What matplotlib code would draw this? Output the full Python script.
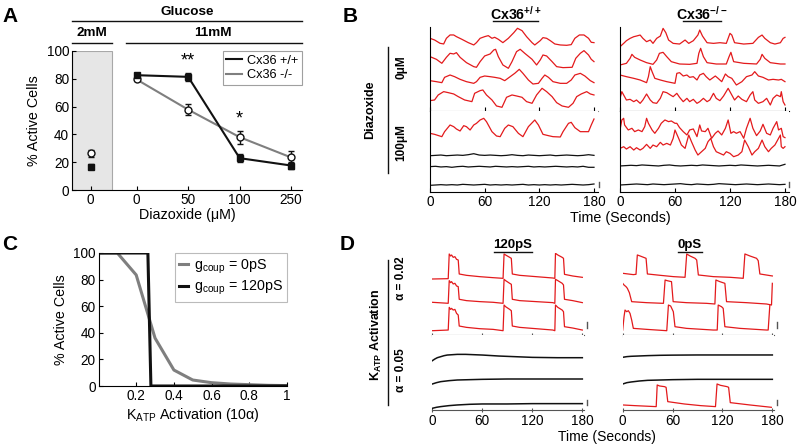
import numpy as np
import matplotlib
matplotlib.use('Agg')
import matplotlib.pyplot as plt

plt.rcParams['font.family'] = ['Liberation Sans', 'DejaVu Sans']
plt.rcParams['mathtext.fontset'] = 'custom'
plt.rcParams['mathtext.rm'] = 'Liberation Sans'
plt.rcParams['mathtext.it'] = 'Liberation Sans:italic'
plt.rcParams['mathtext.bf'] = 'Liberation Sans:bold'

# ---------------- Panel A data ----------------
diaz_labels = ['0', '50', '100', '250']
wt_11 = [82.6, 81.4, 22.9, 17.6]
wt_11_err = [1.2, 3.0, 3.0, 2.3]
ko_11 = [79.5, 57.8, 38.0, 23.4]
ko_11_err = [1.0, 4.2, 4.6, 4.8]
wt_2 = [16.9]
wt_2_err = [1.5]
ko_2 = [26.5]
ko_2_err = [2.4]

# ---------------- Panel B data (a.u.) ----------------
bw0_1_t = [0,5,11,15,18,22,26,29,35,42,48,51,55,60,64,68,71,75,80,86,92,96,101,106,112,115,121,124,128,132,137,143,150,155,159,164,169,174,177,180]
bw0_1_v = [21,16,6,4,21,31,31,26,18,8,1,8,21,26,29,21,24,18,8,21,38,51,44,26,8,1,14,23,21,14,4,1,0,2,21,31,31,21,9,8]
bw0_2_t = [0,7,13,18,22,26,29,33,40,48,51,55,60,66,70,72,75,80,86,90,95,99,104,112,117,121,124,128,134,139,146,156,160,165,169,174,177,180]
bw0_2_v = [35,27,15,33,45,43,47,33,17,5,3,20,37,43,55,57,35,10,0,20,50,57,45,27,10,25,40,37,20,5,2,3,30,45,53,40,27,20]
bw0_3_t = [0,7,13,16,22,27,33,40,48,51,55,60,66,71,77,82,88,93,98,102,108,113,119,123,126,130,135,143,150,155,159,165,170,176,180]
bw0_3_v = [10,7,4,20,27,22,14,7,2,7,20,24,22,20,17,10,22,32,44,32,12,0,2,17,27,20,7,2,2,12,27,32,24,10,4]
bw0_4_t = [0,5,9,15,20,26,31,38,46,49,55,58,62,68,73,79,84,90,95,101,106,112,117,123,128,134,139,145,152,157,161,166,172,176,180]
bw0_4_v = [20,22,37,47,44,40,32,22,17,42,50,52,37,22,4,0,30,37,34,30,17,12,37,57,47,32,14,4,0,12,32,40,47,40,37]

bw1_1_t = [0,5,13,16,22,26,29,33,37,40,44,48,51,55,59,62,68,73,77,82,86,91,97,102,108,115,119,124,130,135,143,146,152,155,159,165,174,177,180]
bw1_1_v = [11,8,1,16,36,31,24,18,34,31,21,36,41,51,56,46,16,3,1,26,36,31,11,1,31,51,36,8,4,1,0,16,41,44,28,16,16,36,54]
flat_t = [0,6,12,18,24,30,36,42,48,54,60,66,72,78,84,90,96,102,108,114,120,126,132,138,144,150,156,162,168,174,180]
bw1_k1_v = [3,4,5,3,4,5,4,6,9,5,4,5,4,3,4,6,4,3,5,4,3,4,5,3,4,5,4,3,4,6,4]
bw1_k2_v = [5,6,4,5,3,5,6,4,5,6,5,4,6,5,4,5,4,5,6,4,5,4,5,6,5,4,5,4,6,3,3]
bw1_k3_v = [2,3,4,3,4,3,5,4,3,4,5,3,4,3,4,3,4,5,3,4,3,4,3,4,3,4,5,4,3,4,6]

bk0_1_t = [0,4,7,11,15,18,22,25,29,33,36,40,44,47,50,53,58,65,71,75,80,85,87,90,95,102,109,116,120,122,125,135,145,151,155,158,164,169,175,178,180]
bk0_1_v = [0,10,18,25,30,32,35,25,15,20,10,25,32,55,42,20,10,8,20,10,18,35,50,32,12,10,12,10,40,35,12,8,10,28,35,25,12,8,12,25,28]
bk0_2_t = [0,7,11,13,16,22,29,36,40,43,47,51,56,65,76,84,86,88,91,95,105,116,119,121,124,135,149,153,155,158,164,175,180]
bk0_2_v = [0,5,20,32,23,15,7,2,15,35,38,25,10,3,2,5,35,50,25,7,3,3,25,38,10,5,3,17,32,20,7,3,3]
bk0_3_t = [0,7,15,22,29,31,33,35,38,44,51,60,62,65,69,73,76,80,84,87,91,94,98,104,107,111,115,118,122,127,133,138,144,147,151,156,162,167,173,176,180]
bk0_3_v = [30,25,20,15,7,25,55,40,20,15,10,5,35,37,27,30,23,25,15,30,35,25,15,27,20,10,33,25,20,0,10,25,30,40,27,23,15,17,15,17,10]
bk0_4_t = [0,2,4,7,11,15,18,22,25,29,33,36,40,44,47,51,55,58,62,65,69,73,76,80,84,87,91,95,98,102,105,109,113,118,122,125,129,133,138,142,145,147,151,156,160,164,167,171,175,176,178,180]
bk0_4_v = [23,43,33,18,20,13,18,8,18,36,18,10,8,23,43,40,33,28,38,26,13,23,13,20,8,13,23,13,18,38,23,16,30,53,33,18,30,20,13,33,43,18,8,13,23,3,23,33,28,43,13,3]

bk1_1_t = [0,2,4,5,9,13,16,20,24,27,29,31,35,38,42,45,49,53,56,60,62,65,69,73,76,80,84,87,89,93,96,100,104,107,111,115,118,121,124,127,131,135,138,142,145,149,153,156,160,164,167,171,173,176,178,180]
bk1_1_v = [25,55,60,40,25,30,20,25,20,35,60,45,25,15,30,45,55,50,52,45,45,32,20,10,25,28,5,40,22,20,30,0,15,22,10,30,55,15,20,15,20,0,30,60,30,8,22,42,15,10,30,50,25,30,5,2]
bk1_2_t = [0,4,7,11,15,18,22,25,29,33,36,40,44,47,51,55,58,60,64,67,71,73,75,78,82,85,89,93,96,99,102,105,109,113,116,120,124,129,133,136,140,144,147,151,155,158,162,165,169,172,175,176,178,180]
bk1_2_v = [25,30,23,30,20,27,20,25,37,25,35,30,43,35,40,35,55,80,55,35,25,45,65,45,20,5,15,25,45,55,30,15,10,5,15,10,0,5,15,50,30,5,15,25,50,30,15,25,35,50,65,30,25,30]
bk1_k1_v = [4,5,6,5,7,6,5,4,6,7,5,4,5,6,5,7,6,5,4,5,6,5,7,6,5,4,5,6,5,4,9]
bk1_k2_v = [3,4,5,6,5,4,6,5,4,5,6,7,5,4,6,5,4,5,7,6,5,4,5,6,5,4,5,6,5,4,5]

# ---------------- Panel C data ----------------
katp_x = [0, 0.1, 0.2, 0.3, 0.4, 0.5, 0.6, 0.7, 0.8, 0.9, 1.0]
active_0pS = [100, 100, 83.5, 36, 12, 4.5, 2.5, 1.5, 1.0, 0.5, 0.3]
katp_x120 = [0, 0.262, 0.278, 1.0]
active_120pS = [100, 100, 0, 0]

# ---------------- Panel D data (a.u.) ----------------
dl_t = [0,19.1,20.3,21.9,23.1,25.1,27.1,29.1,31.1,32.3,41,57,72.9,84.9,86.1,88,92.8,94.8,96,104.8,124.7,144.6,147,147.8,150.6,155.8,157.4,158.6,168.5,180]
dl1_v = [0,1,75,69,72,65,67,59,57,15,11,7,4,2,75,72,65,62,15,11,7,3,2,77,72,65,62,14,9,5]
dl2_v = [3,0,68,62,65,58,60,52,50,12,8,5,3,0,72,68,60,57,12,8,5,2,0,72,68,60,55,12,8,2]
dl3_v = [0,2,70,64,67,62,64,52,47,14,10,6,4,0,77,72,64,60,14,10,6,2,0,77,70,62,57,12,8,2]
dr1_t = [0,12.8,16,17.6,20.9,28.1,29.7,44.9,61,75,77,81,87,89,91,109,129,145,147,153,161,163,165,180]
dr1_v = [15,11,12,70,67,60,13,9,5,3,73,67,60,55,10,5,3,0,73,67,60,53,13,7]
dr2_t = [0,1.6,4,5.6,8,10.8,28.9,49,51,53.5,58.7,60.7,76.8,100.8,110.9,112.1,116.9,122.9,124.9,149,173,179,180]
dr2_v = [65,60,55,50,37,10,7,5,75,73,70,10,7,5,3,75,70,65,10,7,3,0,65]
dr3_t = [0,1.6,2.8,4.8,6.8,8.8,10.8,12.8,28.9,53,55,57.7,60.9,62.9,76.8,108.9,113.7,114.9,118.9,120.9,122.9,141,173,175,177]
dr3_v = [2,42,62,57,60,52,32,7,4,0,77,74,57,12,7,2,2,77,72,67,12,7,2,2,77]
db1_t = [0,3,6,10,14,18,24,30,40,60,80,100,120,150,180]
dlb1_v = [0,5,9,12,15,17,18,19,19,17,14,12,10,9,9]
db_t = [0,5,10,20,30,45,60,90,120,180]
dlb2_v = [0,4,7,10,12,13,14,15,15,15]
dlb3_v = [0,3,5,8,10,12,13,13,14,14]
drb1_v = [0,2,3,4,5,6,6.5,7,7,7]
drb2_v = [0,4,6,9,11,12,13,14,14,14]
drb3_t = [0,14.6,40.3,41.5,44.3,50.2,52.2,54.2,74,93.8,111.6,113.5,117.5,125.4,127.4,129.4,153,178.8]
drb3_v = [7,5,2,67,64,62,60,17,10,5,2,70,66,62,60,14,7,0]

# ---------------- figure ----------------
W, H = 799, 446
fig = plt.figure(figsize=(W / 100, H / 100), dpi=100)
RED = '#e31a1c'
BLK = '#111111'
GRY = '#7f7f7f'
AMP = 1 / 3.0
TICK = 9.8


def px_axes(x0, y0, x1, y1):
    return fig.add_axes([x0 / W, 1 - y1 / H, (x1 - x0) / W, (y1 - y0) / H])


def trace(ax, t, v, off, color, lw=0.9):
    ax.plot(t, off + np.asarray(v, dtype=float) * AMP, color=color, lw=lw,
            solid_joinstyle='round')


# ---- Panel A ----
axA = px_axes(72, 51, 302, 190)
xpos = np.arange(len(diaz_labels))
x2 = -0.893
axA.set_xlim(-1.256, 3.21)
axA.set_ylim(0, 100)
axA.add_patch(plt.Rectangle((-1.256, 0), 0.776, 100, facecolor='#e6e6e6',
                            edgecolor='#a8a8a8', lw=0.8, zorder=0))
axA.plot(xpos, ko_11, color=GRY, lw=1.5, zorder=2)
axA.plot(xpos, wt_11, color=BLK, lw=1.5, zorder=3)
axA.errorbar(xpos, ko_11, yerr=ko_11_err, fmt='o', mfc='white', mec=BLK,
             ms=5, ecolor=BLK, elinewidth=1, capsize=2, zorder=4)
axA.errorbar(xpos, wt_11, yerr=wt_11_err, fmt='s', mfc=BLK, mec=BLK,
             ms=5, ecolor=BLK, elinewidth=1, capsize=2, zorder=5)
axA.errorbar([x2], ko_2, yerr=ko_2_err, fmt='o', mfc='white', mec=BLK,
             ms=5, ecolor=BLK, elinewidth=1, capsize=2, zorder=4)
axA.errorbar([x2], wt_2, yerr=wt_2_err, fmt='s', mfc=BLK, mec=BLK,
             ms=5, ecolor=BLK, elinewidth=1, capsize=2, zorder=5)
axA.text(1, 87, '**', ha='center', va='bottom', fontsize=13)
axA.text(2, 45, '*', ha='center', va='bottom', fontsize=13)
axA.set_xticks([x2] + list(xpos))
axA.set_xticklabels(['0'] + diaz_labels)
axA.set_yticks(range(0, 101, 20))
axA.tick_params(labelsize=TICK, direction='in', length=3, pad=2)
for s in ['top', 'right']:
    axA.spines[s].set_visible(False)
axA.set_ylabel('% Active Cells', fontsize=10.3, labelpad=4)
axA.set_xlabel('Diazoxide (\u03bcM)', fontsize=10.3, labelpad=1)
hA = [plt.Line2D([], [], color=BLK, lw=1.5), plt.Line2D([], [], color=GRY, lw=1.5)]
legA = axA.legend(hA, ['Cx36 +/+', 'Cx36 -/-'], loc='upper right',
                  bbox_to_anchor=(1.0, 1.0), borderaxespad=0, fontsize=9.2,
                  frameon=True, fancybox=False, handlelength=1.2,
                  handletextpad=0.4, borderpad=0.3, labelspacing=0.2)
legA.get_frame().set_edgecolor('#888888')
legA.get_frame().set_linewidth(0.8)

# ---- Panel B ----
def b_axes(x0, x1, y0, y1):
    ax = px_axes(x0, y0, x1, y1)
    ax.set_xlim(0, 184.4)
    for s in ['top', 'right']:
        ax.spines[s].set_visible(False)
    ax.set_yticks([])
    ax.set_xticks([0, 60, 120, 180])
    ax.tick_params(labelsize=TICK, direction='in', length=3, pad=2)
    return ax


bl_top = b_axes(430, 598, 27, 111); bl_top.set_ylim(0, 84)
bl_bot = b_axes(430, 598, 111, 192); bl_bot.set_ylim(0, 81)
br_top = b_axes(620, 789, 27, 111); br_top.set_ylim(0, 84)
br_bot = b_axes(620, 789, 111, 192); br_bot.set_ylim(0, 81)
for ax in (bl_top, br_top):
    ax.set_xticklabels([])
bl_top.spines['bottom'].set_color('#8a8a8a')

trace(bl_top, bw0_1_t, bw0_1_v, 65.7, RED)
trace(bl_top, bw0_2_t, bw0_2_v, 42.7, RED)
trace(bl_top, bw0_3_t, bw0_3_v, 27.0, RED)
trace(bl_top, bw0_4_t, bw0_4_v, 3.7, RED)
trace(bl_bot, bw1_1_t, bw1_1_v, 55.0, RED)
trace(bl_bot, flat_t, bw1_k1_v, 35.3, BLK)
trace(bl_bot, flat_t, bw1_k2_v, 23.7, BLK)
trace(bl_bot, flat_t, bw1_k3_v, 6.0, BLK)

trace(br_top, bk0_1_t, bk0_1_v, 64.3, RED)
trace(br_top, bk0_2_t, bk0_2_v, 46.0, RED)
trace(br_top, bk0_3_t, bk0_3_v, 26.0, RED)
trace(br_top, bk0_4_t, bk0_4_v, 5.0, RED)
trace(br_bot, bk1_1_t, bk1_1_v, 53.7, RED)
trace(br_bot, bk1_2_t, bk1_2_v, 35.3, RED)
trace(br_bot, flat_t, bk1_k1_v, 24.7, BLK)
trace(br_bot, flat_t, bk1_k2_v, 6.0, BLK)

# ---- Panel C ----
axC = px_axes(98.5, 253, 287, 386)
axC.plot(katp_x, active_0pS, color=GRY, lw=2.2, label='g$_{\\mathrm{coup}}$ = 0pS')
axC.plot(katp_x120, active_120pS, color=BLK, lw=2.2, label='g$_{\\mathrm{coup}}$ = 120pS')
axC.set_xlim(0, 1)
axC.set_ylim(0, 100)
axC.set_xticks([0.2, 0.4, 0.6, 0.8, 1.0])
axC.set_xticklabels(['0.2', '0.4', '0.6', '0.8', '1'])
axC.set_yticks(range(0, 101, 20))
axC.tick_params(labelsize=TICK, direction='in', length=3, pad=2)
for s in ['top', 'right']:
    axC.spines[s].set_visible(False)
axC.set_ylabel('% Active Cells', fontsize=10.3, labelpad=4)
axC.set_xlabel('K$_{\\mathrm{ATP}}$ Activation (10\u03b1)', fontsize=10.3, labelpad=2)
legC = axC.legend(loc='upper right', bbox_to_anchor=(1.0, 1.0), borderaxespad=0,
                  fontsize=10.3, frameon=True, fancybox=False, handlelength=0.6,
                  handletextpad=0.4, borderpad=0.3, labelspacing=0.25)
legC.get_frame().set_edgecolor('#aaaaaa')
legC.get_frame().set_linewidth(0.8)

# ---- Panel D ----
def d_axes(x0, x1, y0, y1):
    ax = px_axes(x0, y0, x1, y1)
    ax.set_xlim(0, 182)
    for s in ['top', 'right', 'left']:
        ax.spines[s].set_visible(False)
    ax.spines['bottom'].set_color('#555555')
    ax.set_yticks([])
    ax.set_xticks([0, 60, 120, 180])
    ax.tick_params(labelsize=TICK, direction='inout', length=3, pad=1.5, color='#555555')
    return ax


dl_top = d_axes(432.3, 584, 253, 335); dl_top.set_ylim(0, 82)
dl_bot = d_axes(432.3, 584, 335, 410); dl_bot.set_ylim(0, 75)
dr_top = d_axes(622.7, 774, 253, 335); dr_top.set_ylim(0, 82)
dr_bot = d_axes(622.7, 774, 335, 410); dr_bot.set_ylim(0, 75)
for ax in (dl_top, dr_top):
    ax.set_xticklabels([])

trace(dl_top, dl_t, dl1_v, 56.0, RED)
trace(dl_top, dl_t, dl2_v, 31.7, RED)
trace(dl_top, dl_t, dl3_v, 4.3, RED)
trace(dl_bot, db1_t, dlb1_v, 49.3, BLK, 1.1)
trace(dl_bot, db_t, dlb2_v, 26.0, BLK, 1.1)
trace(dl_bot, db_t, dlb3_v, 1.7, BLK, 1.1)

trace(dr_top, dr1_t, dr1_v, 56.7, RED)
trace(dr_top, dr2_t, dr2_v, 30.0, RED)
trace(dr_top, dr3_t, dr3_v, 4.3, RED)
trace(dr_bot, db_t, drb1_v, 52.7, BLK, 1.1)
trace(dr_bot, db_t, drb2_v, 26.0, BLK, 1.1)
trace(dr_bot, drb3_t, drb3_v, 2.7, RED)

# ---- overlay: labels, headers, decorations ----
ov = fig.add_axes([0, 0, 1, 1])
ov.set_xlim(0, W)
ov.set_ylim(H, 0)
ov.axis('off')

for lab, x, y in [('A', 10, 17), ('B', 350, 17), ('C', 10, 245), ('D', 347, 245)]:
    ov.text(x, y, lab, fontsize=15, fontweight='bold', ha='center', va='center')

# A headers
ov.text(187, 12, 'Glucose', fontsize=9.7, fontweight='bold', ha='center', va='center')
ov.plot([72, 302], [21, 21], color=BLK, lw=1)
ov.text(92, 33, '2mM', fontsize=9.7, fontweight='bold', ha='center', va='center')
ov.plot([72, 112], [43, 43], color=BLK, lw=1)
ov.text(213, 33, '11mM', fontsize=9.7, fontweight='bold', ha='center', va='center')
ov.plot([126, 302], [43, 43], color=BLK, lw=1)

# B titles and side labels
ov.text(515.5, 14, '$\\mathbf{Cx36^{+/+}}$', fontsize=10.2, ha='center', va='center')
ov.plot([493, 538], [21, 21], color=BLK, lw=1)
ov.text(702, 14, '$\\mathbf{Cx36^{-/-}}$', fontsize=10.2, ha='center', va='center')
ov.plot([683, 721], [21, 21], color=BLK, lw=1)
ov.text(370, 110, 'Diazoxide', fontsize=9, fontweight='bold', rotation=90,
        ha='center', va='center')
ov.plot([388, 388], [47, 173], color=BLK, lw=1)
ov.text(401, 67, '0\u03bcM', fontsize=8.5, fontweight='bold', rotation=90,
        ha='center', va='center')
ov.text(401, 143, '100\u03bcM', fontsize=8.5, fontweight='bold', rotation=90,
        ha='center', va='center')
ov.text(620, 218, 'Time (Seconds)', fontsize=10.3, ha='center', va='center')
ov.plot([599, 599], [182, 187], color='#555555', lw=1)
ov.plot([789, 789], [182, 187], color='#555555', lw=1)

# D titles and side labels
ov.text(513, 245, '120pS', fontsize=9.5, fontweight='bold', ha='center', va='center')
ov.plot([494, 532], [252, 252], color=BLK, lw=1)
ov.text(690, 245, '0pS', fontsize=9.5, fontweight='bold', ha='center', va='center')
ov.plot([678, 702], [252, 252], color=BLK, lw=1)
ov.text(376, 335, '$\\mathbf{K_{ATP}}$ Activation', fontsize=9, fontweight='bold',
        rotation=90, ha='center', va='center')
ov.plot([388, 388], [260, 405], color=BLK, lw=1)
ov.text(401, 278, '\u03b1 = 0.02', fontsize=8.5, fontweight='bold', rotation=90,
        ha='center', va='center')
ov.text(401, 370, '\u03b1 = 0.05', fontsize=8.5, fontweight='bold', rotation=90,
        ha='center', va='center')
ov.text(607, 437.5, 'Time (Seconds)', fontsize=10, ha='center', va='center')
for x in (587, 777):
    ov.plot([x, x], [322, 328], color='#555555', lw=1)
    ov.plot([x, x], [400, 405], color='#555555', lw=1)

fig.savefig('out.png', dpi=100)
